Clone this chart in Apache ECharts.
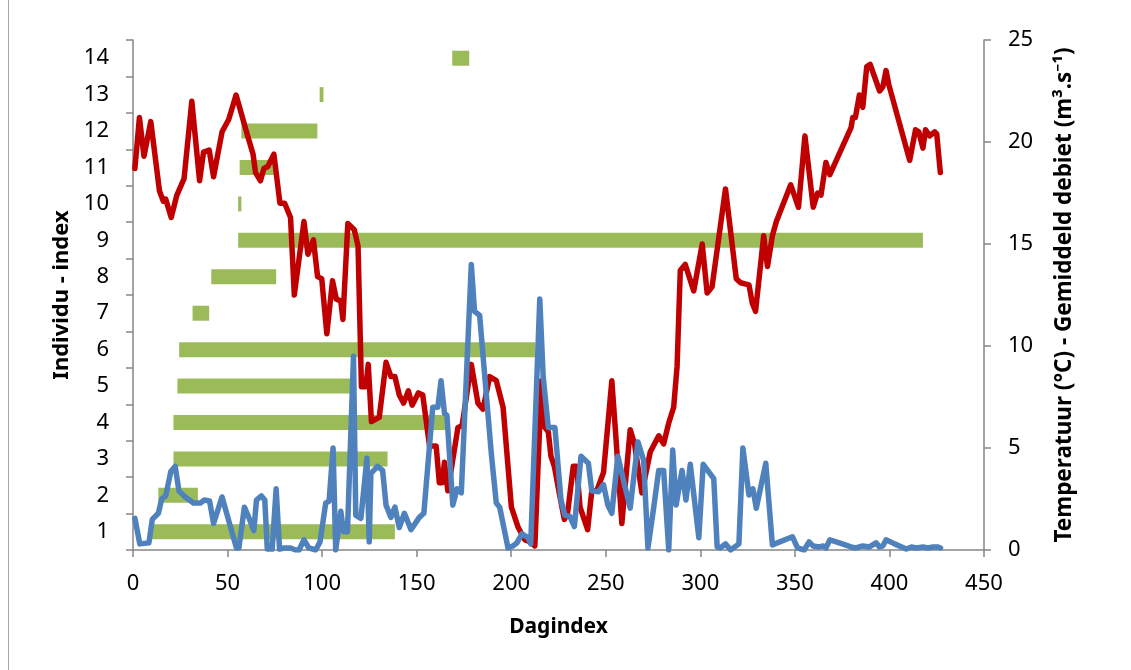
<!DOCTYPE html>
<html><head><meta charset="utf-8">
<script src="https://cdn.jsdelivr.net/npm/echarts@6/dist/echarts.min.js"></script>
<style>html,body{margin:0;padding:0;background:#fff}#c{width:1131px;height:670px}</style>
</head><body><div id="c"></div>
<script>
// Individual index (categories on the left axis)
const individuals = ['1','2','3','4','5','6','7','8','9','10','11','12','13','14'];
// Presence period per individual (Dagindex start / end)
const presenceStart = [10, 13.4, 21.4, 21.4, 23.5, 24.4, 31.5, 41.4, 55.6, 55.6, 56.4, 57.3, 98.7, 168.8];
const presenceEnd   = [138.5, 34.3, 134.6, 167, 116, 212.8, 40.3, 75.7, 417.7, 57.3, 74.5, 97.5, 100.7, 177.8];

// Temperatuur (°C): [dagindex, waarde]
const temperatuur = [
[1,18.7],[3.4,21.2],[5.8,19.3],[9.4,21.0],[14,17.6],[16,17.1],[17.3,17.2],[20.2,16.3],[23.2,17.4],[27,18.2],
[31.1,22.0],[35.2,18.1],[37.3,19.5],[40.3,19.6],[42.6,18.3],[47.1,20.5],[50.6,21.1],[54.5,22.3],[60.3,20.4],[63.5,19.4],
[64.8,18.5],[67.4,18.1],[69.2,18.7],[71.3,18.8],[74.5,19.4],[77.7,17.0],[80.2,17.0],[83.3,16.3],[85.3,12.5],[90.4,16.1],
[92.5,14.5],[95.4,15.2],[97.6,13.4],[99.8,13.3],[102.5,10.6],[105.5,13.2],[107.5,12.3],[109.9,12.2],[111,11.3],[113.6,16.0],
[117,15.7],[119,14.9],[120.8,8.0],[123.1,8.0],[124.4,9.1],[126.1,6.3],[130.2,6.5],[133.8,9.2],[136.4,8.5],[138.5,8.5],
[140.8,7.6],[143.1,7.2],[145.6,7.8],[147.6,7.1],[150.9,7.7],[153.2,7.6],[156.8,5.1],[160.3,5.1],[162,3.3],[163.5,3.3],
[164.7,4.3],[166.5,2.9],[171.8,6.0],[174,6.1],[178.9,9.1],[182.4,7.2],[185.1,6.9],[188.6,8.5],[192.1,8.3],[195.7,7.0],
[200.1,2.1],[203.7,1.1],[207.2,0.5],[210.2,0.4],[212.5,0.2],[216,8.3],[217.8,6.0],[219.6,5.8],[221,4.6],[222.8,4.1],
[225.8,2.6],[228.1,1.5],[229.8,1.8],[232.8,4.1],[234.6,4.1],[236.4,2.1],[240.4,1.0],[242.6,2.9],[245.2,2.9],[248.8,3.8],
[253.2,8.3],[255,6.0],[258.5,1.3],[262.9,5.9],[265.2,5.2],[269.1,2.8],[273.5,4.8],[278,5.6],[280.6,5.2],[283.2,6.2],
[285.9,7.0],[287.7,9.0],[289.4,13.7],[292,14.0],[296.5,12.7],[301,15.0],[303.6,12.6],[306.2,12.9],[313.3,17.7],[319,13.3],
[321.3,13.1],[325.7,13.0],[327.5,12.1],[329.2,11.7],[333.5,15.4],[335.5,13.9],[338.1,15.4],[340.2,16.1],[347.8,17.9],[351.9,16.8],
[355.3,20.3],[359.7,16.8],[362,17.5],[363.8,17.4],[366.4,19.0],[368.5,18.4],[379.7,20.7],[380.6,21.2],[382,21.2],[384.1,22.3],
[385.9,21.7],[388,23.7],[389.8,23.8],[394.8,22.5],[396.5,22.7],[398.2,23.5],[399.7,22.8],[410.7,19.1],[413.8,20.6],[415.5,20.5],
[417.7,19.7],[419.1,20.6],[421.3,20.3],[423.9,20.5],[425,20.4],[426.9,18.5]
];

// Gemiddeld debiet (m³/s): [dagindex, waarde]
const debiet = [
[1,1.55],[3.6,0.3],[8.4,0.35],[10.2,1.5],[13.4,1.8],[15.2,2.5],[17.3,2.65],[20,3.85],[22.3,4.1],[24.3,2.9],
[27.6,2.6],[32,2.3],[35.6,2.3],[37.7,2.45],[40.5,2.4],[42.6,1.3],[47.1,2.6],[54.7,0.1],[56,0.1],[58.9,2.1],
[61.2,1.6],[63.9,0.95],[65.3,2.45],[67.9,2.65],[69.7,2.45],[71,0.05],[73.6,0.05],[75.7,3.0],[77.5,0.05],[80,0.1],
[83.3,0.1],[86,0],[87.8,0],[90.4,0.5],[93,0.1],[96.6,0],[98.9,0.4],[101.9,2.3],[103.7,2.4],[105.8,5.0],
[107.2,0],[109.9,1.9],[111.3,0.9],[113.4,0.9],[116.6,9.5],[117.8,1.7],[120.5,1.55],[123.7,4.5],[124.9,0.4],[125.8,3.75],
[129.3,4.1],[132,3.9],[133.8,2.2],[136.4,1.6],[138.5,2.1],[140.8,1.1],[143.5,1.8],[147,1.0],[151.4,1.6],[153.8,1.8],
[158.5,7.0],[161.2,7.0],[162.9,8.3],[164.7,6.7],[166,6.6],[169.1,2.2],[171.4,3.0],[173.6,2.8],[178.9,14.0],[180.6,11.7],
[183.3,11.5],[189.5,4.7],[192.1,2.3],[193.9,2.1],[198.3,0.1],[201,0.2],[203,0.35],[205.7,0.8],[208.9,0.6],[210.3,0.3],
[215.1,12.3],[216.9,8.5],[219.6,6.0],[223.1,6.0],[226.3,2.45],[228.4,1.7],[231,1.65],[233.4,1.15],[236.9,4.6],[240.8,4.25],
[242.6,2.9],[246.1,2.85],[248.8,3.2],[251.1,2.2],[253.2,1.8],[256.4,4.6],[259.9,3.2],[262.9,2.05],[267,5.3],[270,4.4],
[272.3,0.1],[275.3,2.05],[278,3.9],[280.6,3.9],[283.3,0],[285.4,4.9],[287.2,2.2],[290.3,3.9],[292.4,2.45],[294.7,4.2],
[299.2,0.6],[301.5,4.2],[307.1,3.5],[308.9,0.15],[310.5,0.1],[313.3,0.3],[316,0],[320.4,0.3],[322.5,5.0],[325.7,2.7],
[327.8,3.0],[329.6,2.05],[334.6,4.25],[338.1,0.25],[348.7,0.65],[351.4,0.1],[354.9,0],[357.5,0.4],[359.6,0.2],[362.9,0.15],
[365,0.2],[366.4,0.1],[368.5,0.5],[373.5,0.35],[379.7,0.15],[382.3,0.1],[385.9,0.2],[389.4,0.15],[392.9,0.35],[394.7,0.15],
[396.5,0.2],[398.2,0.5],[402.7,0.3],[408.9,0.05],[411.6,0.15],[414.2,0.1],[417.7,0.15],[420.4,0.1],[423,0.15],[425.7,0.15],
[427,0.1]
];

const xTitle = 'Dagindex';
const yLeftTitle = 'Individu - index';
const yRightTitle = 'Temperatuur (°C) - Gemiddeld debiet (m³.s⁻¹)';

const FONT = 'Noto Sans';
const axisGray = '#868686';
const duration = presenceEnd.map((e, i) => +(e - presenceStart[i]).toFixed(2));

const chart = echarts.init(document.getElementById('c'), null, {renderer: 'canvas'});
chart.setOption({
  animation: false,
  backgroundColor: '#fff',
  textStyle: {fontFamily: FONT},
  grid: {left: 133, right: 147, top: 40, bottom: 120, containLabel: false},
  graphic: [{type: 'line', shape: {x1: 8.5, y1: -5, x2: 8.5, y2: 680}, style: {stroke: '#a6a6a6', lineWidth: 1}, silent: true}],
  xAxis: {
    type: 'value', min: 0, max: 450, interval: 50,
    name: xTitle, nameLocation: 'middle', nameGap: 67,
    nameTextStyle: {fontFamily: FONT, fontSize: 21, fontWeight: 'bold', color: '#000'},
    axisLine: {show: true, onZero: false, lineStyle: {color: axisGray, width: 1.5}},
    axisTick: {show: true, length: 7, lineStyle: {color: axisGray, width: 1.5}},
    axisLabel: {fontFamily: FONT, fontSize: 22, color: '#000', margin: 23},
    splitLine: {show: false}
  },
  yAxis: [{
    type: 'category', data: individuals, position: 'left',
    name: yLeftTitle, nameLocation: 'middle', nameGap: 60, nameRotate: 90,
    nameTextStyle: {fontFamily: FONT, fontSize: 22, fontWeight: 'bold', color: '#000'},
    axisLine: {show: true, lineStyle: {color: axisGray, width: 1.5}},
    axisTick: {show: true, length: 7, lineStyle: {color: axisGray, width: 1.5}},
    axisLabel: {fontFamily: FONT, fontSize: 22, color: '#000', margin: 24},
    splitLine: {show: false}
  }, {
    type: 'value', min: 0, max: 25, interval: 5, position: 'right',
    name: yRightTitle, nameLocation: 'middle', nameGap: 69, nameRotate: 90,
    nameTextStyle: {fontFamily: FONT, fontSize: 22.5, fontWeight: 'bold', color: '#000'},
    axisLine: {show: true, lineStyle: {color: axisGray, width: 1.5}},
    axisTick: {show: true, length: 7, lineStyle: {color: axisGray, width: 1.5}},
    axisLabel: {fontFamily: FONT, fontSize: 22, color: '#000', margin: 24},
    splitLine: {show: false}
  }],
  series: [{
    type: 'bar', stack: 'presence', yAxisIndex: 0, xAxisIndex: 0,
    data: presenceStart, barWidth: 15,
    itemStyle: {color: 'rgba(0,0,0,0)'}, silent: true, z: 1
  }, {
    type: 'bar', stack: 'presence', yAxisIndex: 0, xAxisIndex: 0,
    data: duration, barWidth: 15,
    itemStyle: {color: '#9BBB59'}, z: 1
  }, {
    type: 'line', yAxisIndex: 1, xAxisIndex: 0, data: temperatuur,
    showSymbol: false, symbol: 'none',
    lineStyle: {color: '#C00000', width: 5.5, join: 'round', cap: 'round'}, z: 3
  }, {
    type: 'line', yAxisIndex: 1, xAxisIndex: 0, data: debiet,
    showSymbol: false, symbol: 'none',
    lineStyle: {color: '#4F81BD', width: 5.5, join: 'round', cap: 'round'}, z: 4
  }]
});
</script>
</body></html>
